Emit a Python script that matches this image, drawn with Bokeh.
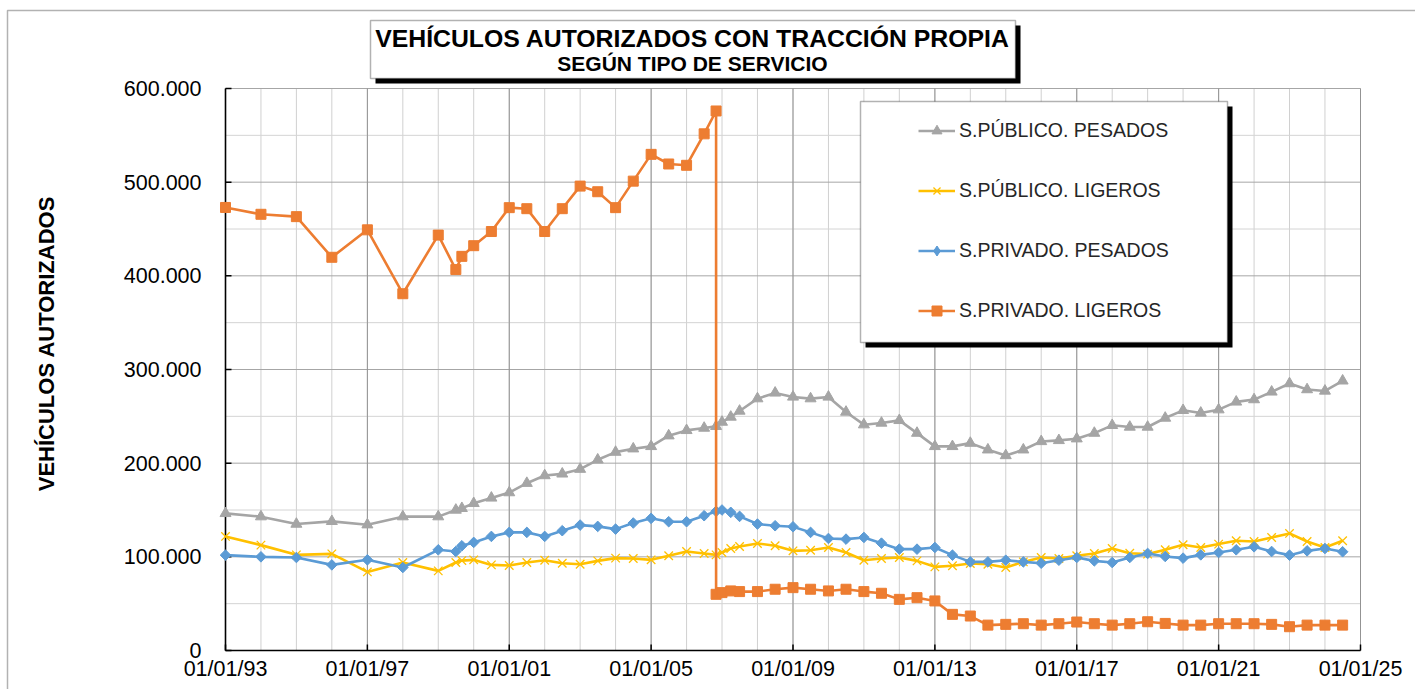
import math
import pandas as pd
from bokeh.plotting import figure
from bokeh.models import Range1d, BoxAnnotation, Label, Legend, LegendItem
from bokeh.core.properties import value
from bokeh.embed import file_html
from bokeh.resources import INLINE

# ---------------- data ----------------
DATES = [
    "1993-01-01", "1994-01-01", "1995-01-01", "1996-01-01", "1997-01-01", "1998-01-01",
    "1999-01-01", "1999-07-01", "1999-09-01", "2000-01-01", "2000-07-01", "2001-01-01",
    "2001-07-01", "2002-01-01", "2002-07-01", "2003-01-01", "2003-07-01", "2004-01-01",
    "2004-07-01", "2005-01-01", "2005-07-01", "2006-01-01", "2006-07-01", "2006-11-01",
    "2007-01-01", "2007-04-01", "2007-07-01", "2008-01-01", "2008-07-01", "2009-01-01",
    "2009-07-01", "2010-01-01", "2010-07-01", "2011-01-01", "2011-07-01", "2012-01-01",
    "2012-07-01", "2013-01-01", "2013-07-01", "2014-01-01", "2014-07-01", "2015-01-01",
    "2015-07-01", "2016-01-01", "2016-07-01", "2017-01-01", "2017-07-01", "2018-01-01",
    "2018-07-01", "2019-01-01", "2019-07-01", "2020-01-01", "2020-07-01", "2021-01-01",
    "2021-07-01", "2022-01-01", "2022-07-01", "2023-01-01", "2023-07-01", "2024-01-01",
    "2024-07-01",
]

PUBLICO_PESADOS = [
    146400, 142900, 135000, 137900, 134300, 142900, 142900, 150000, 151800, 157100,
    162900, 168600, 178600, 186800, 188600, 193600, 203600, 211800, 215400, 217900,
    229300, 235000, 237500, 239300, 243900, 249300, 255700, 268900, 275000, 270700,
    268900, 270700, 254600, 241100, 242900, 245700, 232100, 217900, 217900, 221400,
    214300, 208200, 214300, 223200, 224300, 226100, 232100, 240400, 238600, 238600,
    248200, 256400, 253600, 257100, 265400, 267900, 276100, 285000, 278600, 277100,
    287900,
]

PUBLICO_LIGEROS = [
    121800, 112500, 102100, 103200, 83900, 93900, 85000, 93900, 96000, 96800,
    91400, 90800, 93900, 96400, 93200, 92100, 95700, 98600, 98200, 96800,
    101100, 105700, 103600, 102100, 104600, 108900, 111100, 114300, 111800, 106400,
    107100, 110000, 104600, 96400, 98200, 99300, 95700, 89300, 90400, 92900,
    92100, 88600, 94600, 99300, 98200, 101100, 103600, 108900, 103900, 102900,
    107500, 112900, 110000, 113600, 117100, 116400, 120700, 125000, 116400, 110000,
    117100,
]

PRIVADO_PESADOS = [
    101800, 100000, 99300, 91400, 96800, 88600, 107500, 105700, 111800, 115400,
    121800, 126100, 126100, 121800, 127900, 133900, 132500, 129600, 136100, 141100,
    137500, 137500, 143900, 148600, 150000, 147500, 143200, 135000, 133200, 132100,
    126100, 119600, 118900, 120700, 114600, 108200, 108200, 110000, 101800, 94600,
    94600, 96400, 94600, 93200, 96400, 99300, 95700, 93900, 99300, 103600,
    100400, 98600, 102100, 104600, 107500, 110700, 105700, 101800, 106400, 108900,
    105400,
]

# the private light series has two readings on 2006-11-01 (break in the series)
PRIVADO_LIGEROS_DATES = DATES[:24] + ["2006-11-01"] + DATES[24:]
PRIVADO_LIGEROS = [
    473000, 465700, 463200, 419800, 449100, 380900, 443500, 406700, 420800, 432200,
    447300, 472800, 471700, 447300, 471700, 495800, 489800, 472800, 501100, 529700,
    519400, 518000, 551600, 576000,
    60000, 61800, 63600, 62900, 62900, 65400, 67100, 65400, 63600, 65400,
    62900, 61100, 54600, 56400, 52900, 38600, 36800, 27100, 27900, 28600,
    27100, 28600, 30400, 28600, 27100, 28600, 30700, 28900, 27100, 27100,
    28600, 28600, 28600, 27900, 25400, 27100, 27100, 27100,
]

SERIES_NAMES = ["S.PÚBLICO. PESADOS", "S.PÚBLICO. LIGEROS",
                "S.PRIVADO. PESADOS", "S.PRIVADO. LIGEROS"]

X_MAJOR_DATES = ["1993-01-01", "1997-01-01", "2001-01-01", "2005-01-01", "2009-01-01",
                 "2013-01-01", "2017-01-01", "2021-01-01", "2025-01-01"]
X_TICK_LABELS = ["01/01/93", "01/01/97", "01/01/01", "01/01/05", "01/01/09",
                 "01/01/13", "01/01/17", "01/01/21", "01/01/25"]
X_MINOR_DATES = [f"{y}-01-01" for y in range(1993, 2026)]
Y_TICKS = [0, 100000, 200000, 300000, 400000, 500000, 600000]
Y_TICK_LABELS = ["0", "100.000", "200.000", "300.000", "400.000", "500.000", "600.000"]
Y_MINOR = [50000, 150000, 250000, 350000, 450000, 550000]

TITLE = "VEHÍCULOS AUTORIZADOS CON TRACCIÓN PROPIA"
SUBTITLE = "SEGÚN TIPO DE SERVICIO"
Y_LABEL = "VEHÍCULOS  AUTORIZADOS"

# ---------------- layout ----------------
W, H = 1415, 689
FONT = "Liberation Sans"
PLOT_LEFT, PLOT_RIGHT, PLOT_TOP, PLOT_BOTTOM = 225, 1360, 88, 650


def ms(d):
    return pd.Timestamp(d).value / 1e6


x_lo, x_hi = ms(X_MAJOR_DATES[0]), ms(X_MAJOR_DATES[-1])
y_lo, y_hi = Y_TICKS[0], Y_TICKS[-1]
ms_per_px = (x_hi - x_lo) / (PLOT_RIGHT - PLOT_LEFT)
v_per_px = (y_hi - y_lo) / (PLOT_BOTTOM - PLOT_TOP)

p = figure(width=W, height=H, output_backend="svg", toolbar_location=None, title=None,
           x_axis_location=None, y_axis_location=None,
           x_range=Range1d(x_lo - PLOT_LEFT * ms_per_px, x_lo + (W - PLOT_LEFT) * ms_per_px),
           y_range=Range1d(y_lo - (H - PLOT_BOTTOM) * v_per_px, y_hi + PLOT_TOP * v_per_px),
           min_border_left=0, min_border_right=0, min_border_top=0, min_border_bottom=0)
p.outline_line_color = None
for g in p.grid:
    g.visible = False
p.background_fill_color = "white"
p.border_fill_color = "white"

# ---------------- grid ----------------
xm = [ms(d) for d in X_MINOR_DATES]
xM = [ms(d) for d in X_MAJOR_DATES]
p.segment(x0=xm, y0=[y_lo] * len(xm), x1=xm, y1=[y_hi] * len(xm), line_color="#d0d0d0", line_width=1)
p.segment(x0=[x_lo] * len(Y_MINOR), y0=Y_MINOR, x1=[x_hi] * len(Y_MINOR), y1=Y_MINOR,
          line_color="#d4d4d4", line_width=1)
p.segment(x0=[x_lo] * len(Y_TICKS), y0=Y_TICKS, x1=[x_hi] * len(Y_TICKS), y1=Y_TICKS,
          line_color="#a6a6a6", line_width=1)
p.segment(x0=xM, y0=[y_lo] * len(xM), x1=xM, y1=[y_hi] * len(xM), line_color="#939393", line_width=1)

# ---------------- axes ----------------
p.segment(x0=[x_lo, x_lo], y0=[y_lo, y_lo], x1=[x_lo, x_hi], y1=[y_hi, y_lo],
          line_color="black", line_width=1.6)
p.ray(x=[x_lo] * len(Y_TICKS), y=Y_TICKS, length=6, length_units="screen", angle=0,
      line_color="black", line_width=1.5)
p.ray(x=xM, y=[y_lo] * len(xM), length=6, length_units="screen", angle=math.pi / 2,
      line_color="black", line_width=1.5)
p.text(x=[x_lo] * len(Y_TICKS), y=Y_TICKS, text=Y_TICK_LABELS, x_offset=-24,
       text_align="right", text_baseline="middle", text_font=value(FONT),
       text_font_size="21.5px", text_color="black")
p.text(x=xM, y=[y_lo] * len(xM), text=X_TICK_LABELS, y_offset=6,
       text_align="center", text_baseline="top", text_font=value(FONT),
       text_font_size="21.5px", text_color="black")

# ---------------- series ----------------
x_all = [ms(d) for d in DATES]
x_orange = [ms(d) for d in PRIVADO_LIGEROS_DATES]

GRAY, YELLOW, BLUE, ORANGE = "#A5A5A5", "#FFC000", "#5B9BD5", "#ED7D31"
LW = 2.6

l1 = p.line(x_all, PUBLICO_PESADOS, line_color=GRAY, line_width=LW, line_join="round")
s1 = p.scatter(x_all, PUBLICO_PESADOS, marker="triangle", size=11, fill_color=GRAY, line_color=GRAY)
l2 = p.line(x_all, PUBLICO_LIGEROS, line_color=YELLOW, line_width=LW, line_join="round")
s2 = p.scatter(x_all, PUBLICO_LIGEROS, marker="x", size=12, line_color=YELLOW, line_width=1.3)
l3 = p.line(x_all, PRIVADO_PESADOS, line_color=BLUE, line_width=LW, line_join="round")
s3 = p.scatter(x_all, PRIVADO_PESADOS, marker="square", angle=math.pi / 4, size=7.5,
               fill_color=BLUE, line_color=BLUE)
# legend key only (the legend cannot rotate a square, so it uses a diamond marker; no visible point)
s3_key = p.scatter(x=[float("nan")], y=[float("nan")], marker="diamond", size=12,
                   fill_color=BLUE, line_color=BLUE)
l4 = p.line(x_orange, PRIVADO_LIGEROS, line_color=ORANGE, line_width=LW, line_join="round")
s4 = p.scatter(x_orange, PRIVADO_LIGEROS, marker="square", size=10, fill_color=ORANGE, line_color=ORANGE)


def box(left, top, right, bottom, **kw):
    return BoxAnnotation(left=left, right=right, top=top, bottom=bottom,
                         left_units="canvas", right_units="canvas", top_units="canvas",
                         bottom_units="canvas", **kw)


# ---------------- outer border ----------------
p.add_layout(box(7, 10, W + 20, H + 20, fill_alpha=0, line_color="black", line_width=1.5))

# ---------------- title box ----------------
p.add_layout(box(375, 25, 1020, 83, fill_color="black", fill_alpha=1, line_color=None))
p.add_layout(box(370, 20, 1015, 78, fill_color="white", fill_alpha=1,
                 line_color="black", line_width=1.5))
p.add_layout(Label(x=692, y=38, x_units="canvas", y_units="canvas", text=TITLE,
                   text_align="center", text_baseline="middle", text_font=FONT,
                   text_font_size="24.8px", text_font_style="bold", text_color="black"))
p.add_layout(Label(x=692, y=63, x_units="canvas", y_units="canvas", text=SUBTITLE,
                   text_align="center", text_baseline="middle", text_font=FONT,
                   text_font_size="21px", text_font_style="bold", text_color="black"))

# ---------------- y axis title ----------------
p.add_layout(Label(x=46, y=340, x_units="canvas", y_units="canvas", text=Y_LABEL,
                   angle=math.pi / 2, text_align="center", text_baseline="middle", text_font=FONT,
                   text_font_size="22px", text_font_style="bold", text_color="black"))

# ---------------- legend ----------------
p.add_layout(box(865, 106, 1232, 347, fill_color="black", fill_alpha=1, line_color=None))
p.add_layout(box(860, 101, 1227, 342, fill_color="white", fill_alpha=1,
                 line_color="black", line_width=1.5))

legend = Legend(items=[LegendItem(label=SERIES_NAMES[0], renderers=[l1, s1]),
                       LegendItem(label=SERIES_NAMES[1], renderers=[l2, s2]),
                       LegendItem(label=SERIES_NAMES[2], renderers=[l3, s3_key]),
                       LegendItem(label=SERIES_NAMES[3], renderers=[l4, s4])],
                location=(918, H - 205 - 118), orientation="vertical",
                glyph_width=37, glyph_height=25, label_height=25, spacing=35,
                padding=0, margin=0, label_standoff=4,
                border_line_color=None, background_fill_alpha=0,
                label_text_font=FONT, label_text_font_size="19.5px", label_text_color="#262626")
p.add_layout(legend, "center")

open("out.html", "w").write(file_html(p, INLINE))
